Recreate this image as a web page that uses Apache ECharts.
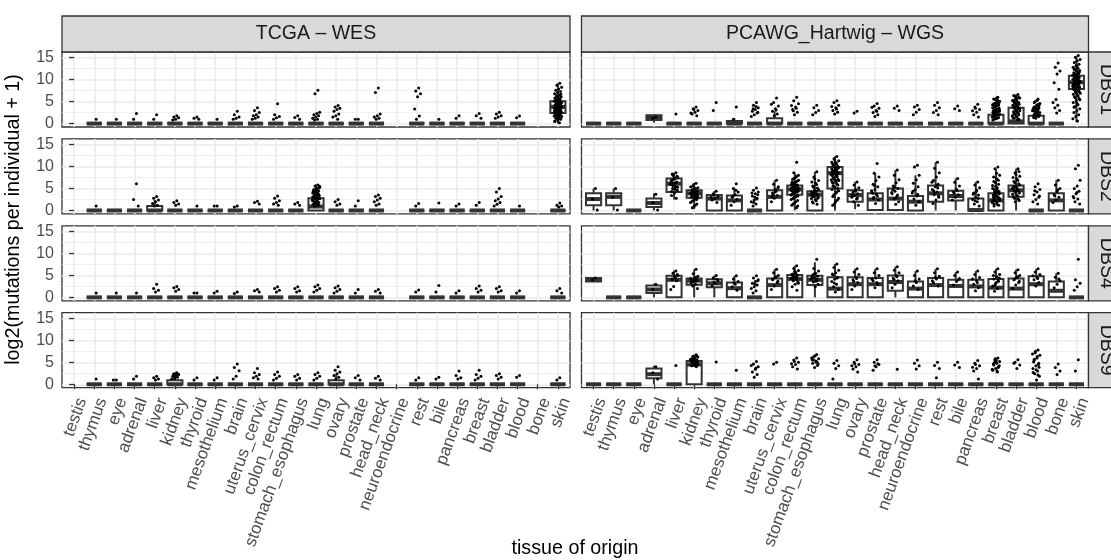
<!DOCTYPE html>
<html><head><meta charset="utf-8">
<script src="https://cdn.jsdelivr.net/npm/echarts@6/dist/echarts.min.js"></script>
<style>html,body{margin:0;padding:0;background:#fff}#c{width:1111px;height:560px}</style>
</head><body><div id="c"></div><script>
const categories = ['testis','thymus','eye','adrenal','liver','kidney','thyroid','mesothelium','brain','uterus_cervix','colon_rectum','stomach_esophagus','lung','ovary','prostate','head_neck','neuroendocrine','rest','bile','pancreas','breast','bladder','blood','bone','skin'];
const studies = ['TCGA – WES', 'PCAWG_Hartwig – WGS'];
const signatures = ['DBS1', 'DBS2', 'DBS4', 'DBS9'];
const yTicks = [0, 5, 10, 15];
const yMinorTicks = [2.5, 7.5, 12.5];
const xTitle = 'tissue of origin';
const yTitle = 'log2(mutations per individual + 1)';

// box stats per category: [lower whisker, q1, median, q3, upper whisker]; null = no samples
const Z = [0, 0, 0, 0, 0];
const boxTCGA_DBS1 = [null,Z,Z,Z,Z,Z,Z,Z,Z,Z,Z,Z,Z,Z,Z,Z,null,Z,Z,Z,Z,Z,Z,null,[0,2.4,3.8,5.1,9.2]];
const boxTCGA_DBS2 = [null,Z,Z,Z,[0,0,0,1.0,2.4],Z,Z,Z,Z,Z,Z,Z,[0,0,0.9,2.8,5.9],Z,Z,Z,null,Z,Z,Z,Z,Z,Z,null,Z];
const boxTCGA_DBS4 = [null,Z,Z,Z,Z,Z,Z,Z,Z,Z,Z,Z,Z,Z,Z,Z,null,Z,Z,Z,Z,Z,Z,null,Z];
const boxTCGA_DBS9 = [null,Z,Z,Z,Z,[0,0,0,0.9,2.2],Z,Z,Z,Z,Z,Z,Z,[0,0,0,0.9,2.2],Z,Z,null,Z,Z,Z,Z,Z,Z,null,Z];
const boxPCAWG_DBS1 = [Z,Z,Z,[0.2,0.8,1.3,1.9,2.1],Z,Z,Z,[0,0,0,0.6,1.2],Z,[0,0,0,1.2,2.8],Z,Z,Z,Z,Z,Z,Z,Z,Z,Z,[0,0,0,2.0,5.0],[0,0,0.5,3.6,6.6],[0,0,0,1.8,4.5],Z,[0.3,7.9,9.4,10.9,15.3]];
const boxPCAWG_DBS2 = [[0,1.2,2.6,3.9,5.0],[0,1.2,3.1,3.9,5.0],Z,[0,0.8,1.7,2.7,3.9],[2.5,4.2,6.1,7.3,8.6],[0.3,2.9,3.9,4.6,6.2],[0,0,2.7,3.5,4.4],[0,0,2.3,3.4,5.0],Z,[0,0,3.1,4.6,6.9],[0,3.6,4.8,5.7,8.6],[0,0,3.6,4.4,8.8],[0,5.0,8.5,9.9,12.3],[0.3,2.0,3.5,4.6,6.5],[0,0.1,2.5,3.9,8.5],[0,0.1,2.7,5.0,9.2],[0,0,2.0,3.3,8.0],[0,2.0,3.9,5.7,11.0],[0,2.3,3.3,4.5,7.3],[0,0,0.1,2.7,6.5],[0,0,2.3,3.9,9.5],[0,3.1,4.6,5.7,9.5],Z,[0,0,2.3,3.9,6.9],Z];
const boxPCAWG_DBS4 = [[3.5,3.6,4.0,4.4,4.5],Z,Z,[0,1.0,1.8,2.7,3.1],[0,0,4.0,4.9,6.1],[0,2.9,3.8,4.3,6.4],[0,2.3,3.2,4.1,5.0],[0,0,2.1,3.4,4.9],Z,[0,0,2.8,4.3,6.4],[0,0,4.2,5.1,7.2],[0,2.8,4.0,4.9,8.0],[0,0,2.0,4.6,7.6],[0,0,3.0,4.6,6.5],[0,0,3.0,4.4,6.5],[0,1.5,3.5,5.0,7.0],[0,0,2.0,3.6,6.0],[0,0,2.8,4.4,6.5],[0,0,2.6,4.0,5.8],[0,0,2.5,4.0,6.0],[0,0,2.2,4.2,6.5],[0,0,2.0,4.3,6.3],[0,0,3.0,4.8,6.5],[0,0,1.5,3.6,5.5],Z];
const boxPCAWG_DBS9 = [Z,Z,Z,[0,1.4,2.3,3.6,4.2],Z,[0,0,4.5,5.3,6.7],Z,Z,Z,Z,Z,Z,Z,Z,Z,Z,Z,Z,Z,Z,Z,Z,Z,Z,Z];

// individual values (jittered points) per category
const ptsTCGA_DBS1 = [[],[1.0],[1.0],[2.3,1.0],[2.0,1.0],[1.8,1.5,1.3,1.0,0.8],[1.5,1.2,1.0],[1.0],[2.8,2.0,1.5,1.2,1.0],[3.6,3.0,2.5,2.0,1.8,1.5,1.2,1.0],[4.5,2.0,1.6,1.3,1.0],[1.8,1.4,1.0],[7.6,6.8,2.6,2.3,2.0,1.8,1.5,1.2,1.0,0.8],[4.1,3.8,3.5,3.2,2.8,2.2,1.8,1.5,1.0],[1.0,1.0],[8.1,7.1,2.2,1.8,1.5,1.2,1.0],[],[8.1,7.4,6.8,6.1,3.3,1.7,1.0],[1.0],[1.8,1.2],[2.3,1.8,1.2],[2.6,2.2,1.8,1.5,1.2],[1.7,1.3],[],
 [9.2,8.7,8.3,7.9,7.6,7.3,7.0,6.8,6.5,6.3,6.1,5.9,5.7,5.5,5.3,5.1,4.9,4.7,4.5,4.4,4.2,4.0,3.9,3.8,3.6,3.5,3.3,3.2,3.0,2.9,2.7,2.5,2.4,2.2,2.0,1.8,1.6,1.4,1.2,1.0,0.8,0.5,0.2,4.1,3.7,3.4,3.1,4.6,2.8,2.6,5.0,4.3,
  6.7,6.2,5.8,5.6,5.2,4.8,4.6,4.1,3.9,3.7,3.5,3.3,3.0,2.8,2.6,2.3,2.1,1.9,1.7,1.5,1.3,1.1,0.9,0.6,4.4,4.0,3.6,3.2,2.9,2.5]];
const ptsTCGA_DBS2 = [[],[1.0],[],[6.1,2.5,1.0],[3.2,2.8,2.4,2.0,1.6,1.2,1.0],[2.2,1.8,1.5,1.2],[1.0],[1.0,1.0],[1.0,0.8],[2.1,1.8,1.5],[3.3,2.8,2.2,1.8,1.5,1.2],[1.8,1.5,1.2],
 [5.8,5.6,5.3,5.0,4.8,4.5,4.3,4.0,3.8,3.6,3.4,3.2,3.0,2.8,2.6,2.4,2.2,2.0,1.8,1.6,1.4,1.2,1.0,5.5,4.6,4.1,3.5,2.9,2.3,1.7,1.1,5.2,4.9,4.4,3.9,3.3,2.7,2.1,1.5,1.3,4.7,3.1,2.5,1.9],
 [2.5,2.0,1.5,1.2],[2.2,1.0],[3.5,3.2,2.8,2.4,2.0,1.5,1.2],[],[1.6,1.0],[1.7],[1.5,1.0],[1.8,1.2],[5.0,4.2,3.2,2.6,2.2,1.8,1.4,1.0],[1.0],[],[1.7,1.2,1.0,0.8]];
const ptsTCGA_DBS4 = [[],[1.0],[1.0],[1.0],[3.0,2.0,1.6,1.2],[2.5,2.2,1.8,1.4],[1.0,1.0],[1.4,1.0],[1.2,0.9],[1.8,1.5,1.2],[2.4,2.0,1.6,1.2],[2.4,2.0,1.5,1.2],[2.8,2.4,2.0,1.6,1.2],[2.6,2.2,1.8,1.4,1.0],[1.8,1.0],[1.8,1.4,1.0],[],[1.7,1.2],[2.7,1.2],[1.5,1.0],[2.6,2.0,1.6,1.2],[2.4,2.0,1.5,1.2],[1.5,1.0],[],[2.0,1.5,1.0]];
const ptsTCGA_DBS9 = [[],[1.2],[1.0,1.0],[1.8,1.2],[1.8,1.5,1.2,1.0],[2.6,2.4,2.2,2.0,1.8,1.6,1.4,1.2,2.5,2.1,2.3,1.9],[1.5,1.0],[1.5,1.0],[4.6,3.8,3.1,1.8,1.2],[3.6,2.6,2.2,1.8,1.5,1.2],[2.8,2.2,1.8,1.4,1.0],[2.2,1.8,1.4,1.0],[2.6,2.2,1.8,1.4,1.0],[4.0,3.2,2.8,2.4,2.0,1.6,1.2],[2.0,1.5,1.0],[1.8,1.4,1.0],[],[1.5,1.0],[1.6,1.2],[3.0,2.0,1.5,1.2],[3.2,2.2,1.8,1.4,1.0],[2.4,2.0,1.6,1.2],[2.0,1.6],[],[1.5,1.0]];
const ptsPCAWG_DBS1 = [[],[],[],[1.5,1.2],[2.2],[3.8,3.4,3.0,2.6,2.2,1.8,3.2,2.4],[4.8,3.0],[3.8,1.0],[4.8,4.2,3.6,3.2,2.8,2.4,2.0,1.6,3.9,3.4,2.6],[5.8,4.8,4.0,3.4,2.8,2.2,1.8,4.4,3.1],[6.0,5.2,4.5,3.8,3.2,2.6,2.0,4.1,3.5,2.9],[4.2,3.6,3.0,2.5,2.0],[5.2,4.8,4.2,3.6,3.0,2.6,2.2,3.9,3.3],[2.8,2.4],[4.6,4.0,3.5,3.0,2.5,2.0,1.6,3.7,2.8],[4.0,3.5,3.0],[4.2,3.8,3.2,2.6,2.0],[4.8,4.2,3.6,3.0,2.5,2.0],[4.0,3.4,3.0],[4.4,3.8,3.2,2.6,2.0,1.5,3.5,2.9],
 [6.0,5.5,5.1,4.8,4.5,4.2,3.9,3.6,3.3,3.0,2.8,2.5,2.2,2.0,1.7,1.5,1.2,1.0,4.6,3.4,2.6,5.3,4.0,3.1,5.8,5.6,5.0,4.7,4.3,4.1,3.8,3.5,3.2,2.9,2.7,2.4,2.1,1.9,1.6,1.4,1.1,0.8],
 [6.6,6.2,5.8,5.5,5.1,4.8,4.5,4.2,3.9,3.6,3.3,3.0,2.7,2.4,2.1,1.8,1.5,1.2,1.0,5.9,5.3,4.6,4.0,3.4,2.8,6.4,6.0,5.6,5.2,4.9,4.7,4.4,4.1,3.8,3.5,3.2,2.9,2.6,2.3,2.0,1.7,1.3,0.9],
 [5.6,5.0,4.6,4.2,3.8,3.5,3.2,2.9,2.6,2.3,2.0,1.7,1.4,4.4,3.6,3.0,5.3,4.8,4.0,3.7,3.4,3.1,2.8,2.5,2.2,1.9,1.6,1.2],
 [13.8,12.8,12.0,11.3,9.3,7.8,5.5,4.8,4.2,3.6,3.0,2.4],
 [15.5,15.1,14.6,14.3,13.9,13.5,13.2,12.8,12.6,12.3,12.1,11.9,11.6,11.4,11.2,11.0,10.8,10.6,10.5,10.3,10.1,9.9,9.8,9.6,9.4,9.3,9.1,8.9,8.8,8.6,8.4,8.2,8.0,7.8,7.5,7.2,6.9,6.5,6.1,5.7,5.2,4.8,4.3,3.9,3.4,2.9,2.5,2.0,1.6,1.1,0.6,10.7,9.7,9.0,8.3,11.3,10.2,9.5,
  12.9,12.4,11.7,11.1,10.9,10.4,10.0,9.7,9.5,9.2,8.9,8.7,8.5,8.1,7.7,7.3,7.0,6.7,6.3,5.9,5.4,4.6,3.7,11.5,10.8,10.1,9.6,9.0,8.4]];
const ptsPCAWG_DBS2 = [[5.0,2.6,0.1],[5.0,3.0,0.1],[],[3.7,1.8,0.1],
 [8.6,8.0,7.6,7.2,6.9,6.5,6.2,5.9,5.5,5.0,4.6,4.0,3.4,2.8,7.0,6.0,5.2,8.3,7.8,7.4,6.7,6.3,5.7,5.3,4.8,4.3],
 [6.2,5.6,5.2,4.9,4.6,4.4,4.2,4.0,3.8,3.6,3.4,3.2,3.0,2.7,2.3,1.8,1.2,0.6,4.1,3.9,3.7,3.3,4.5,4.3,3.5,3.1,2.5,5.9,5.4,5.0,4.8,4.3,4.0,3.8,3.5,3.2,2.9,2.6,2.1,1.5,0.9],
 [4.4,3.8,3.2,2.8,2.4,1.8,3.5,3.0],[6.1,5.0,4.2,3.6,3.0,2.5,2.0,1.2,4.6,3.3],[5.1,4.6,4.2,3.8,3.3,2.8,2.4,2.0,1.5,1.0,3.6,3.0,4.0,2.6,1.8],[6.9,6.0,5.4,4.8,4.0,3.4,2.8,2.0,4.4,3.7,5.1,4.2,3.1],
 [11.0,8.6,8.0,7.5,7.1,6.7,6.3,6.0,5.7,5.4,5.1,4.8,4.5,4.2,3.9,3.5,3.1,2.7,2.3,1.8,1.2,0.6,5.6,5.0,4.4,3.8,5.3,4.9,4.6,4.3,4.0,3.3,5.9,6.5,7.8,7.3,6.9,6.4,6.1,5.8,5.5,5.2,4.9,4.7,4.4,4.1,3.7,3.4,3.0,2.5,2.0,1.5,1.0],
 [8.8,7.6,6.8,6.2,5.6,5.1,4.6,4.2,3.8,3.4,3.0,2.5,2.0,1.4,4.0,3.6,4.4,3.2,2.8,7.2,6.5,5.9,5.3,4.8,4.3,3.9,3.5,3.1,2.7,2.2,1.7],
 [12.3,11.8,11.3,10.9,10.5,10.1,9.8,9.5,9.2,8.9,8.6,8.3,8.0,7.7,7.4,7.0,6.6,6.2,5.8,5.3,4.8,4.2,3.6,2.8,2.0,1.2,9.6,9.0,8.4,7.8,10.3,9.9,9.4,8.8,8.2,7.2,6.8,6.4,5.6,5.0,
  11.5,11.0,10.7,10.2,9.7,9.3,9.1,8.7,8.5,8.1,7.9,7.5,7.1,6.9,6.5,6.0,5.5,4.5,3.9,3.2,2.4,1.6],
 [6.5,5.8,5.2,4.7,4.2,3.8,3.4,3.0,2.6,2.0,1.2,4.4,3.6,2.8],[10.7,8.5,7.6,6.8,6.0,5.4,4.8,4.2,3.6,3.0,2.4,1.6,3.9,3.3,5.7,4.5,3.7,2.7],[9.2,8.0,7.0,6.3,5.6,5.0,4.4,3.8,3.2,2.6,2.0,1.4,4.7,3.5,5.3,4.1,2.9],[10.3,9.9,8.0,7.0,6.2,5.4,4.7,4.0,3.3,2.6,2.0,1.2,4.4,3.7],[11.0,9.6,8.6,7.6,6.8,6.0,5.4,4.8,4.2,3.6,3.0,2.4,1.6,5.1,3.9,6.4,5.7,4.5,3.3],[7.3,6.4,5.6,4.8,4.2,3.6,3.0,2.4,4.5,3.9],[6.5,5.8,5.2,4.6,4.0,3.5,3.0,2.5,2.0,1.5,1.0,4.3,3.7,2.8,2.2],
 [9.9,9.5,8.0,7.2,6.6,6.0,5.5,5.0,4.6,4.2,3.8,3.4,3.0,2.6,2.2,1.8,1.4,1.0,4.0,3.2,2.4,4.4,3.6,2.8,8.5,7.6,6.9,6.3,5.7,5.2,4.8,4.3,3.9,3.5,3.1,2.7,2.3,1.9,1.5,1.2],
 [9.5,8.6,7.8,7.2,6.6,6.1,5.6,5.2,4.8,4.4,4.0,3.6,3.1,2.6,2.0,5.0,4.6,5.4,8.9,8.2,7.5,6.9,6.3,5.8,5.3,4.9,4.5,4.1,3.7,3.3,2.8,2.3],
 [6.1,5.4,4.8,4.2,3.6,3.0,2.5,2.0,1.5,4.5,3.3],[6.9,5.8,5.0,4.3,3.6,3.0,2.4,1.8,4.7,3.3],[10.3,9.5,6.9,5.6,5.0,4.4,3.8,3.2,2.6,2.0,1.5,4.1,2.9]];
const ptsPCAWG_DBS4 = [[4.4,4.0],[],[],[3.0,1.8],[6.0,5.5,5.0,4.6,4.2,3.8,2.5,1.8,4.4,4.0,5.2,4.8],[6.4,5.4,4.8,4.4,4.1,3.9,3.6,3.3,3.0,2.6,2.0,4.2,3.7,4.6,3.5,4.3,3.8],[5.0,4.4,3.8,3.2,2.6,4.1,3.5],[4.9,4.2,3.6,3.0,2.4,1.6,3.3],[4.9,4.4,4.0,3.6,3.2,2.8,2.4,2.0,1.5,1.0,3.8,3.0],[6.4,5.6,5.0,4.5,4.0,3.4,2.6,1.8,4.7,4.2,3.7],
 [7.2,6.6,6.1,5.7,5.3,5.0,4.7,4.4,4.1,3.8,3.4,3.0,2.4,1.6,4.8,4.3,5.5,4.6,3.6,5.9,5.2,4.5,4.0,3.2],[8.7,6.6,6.0,5.5,5.1,4.8,4.5,4.2,3.9,3.5,3.0,2.4,4.6,4.0,5.3,4.3,3.7],[7.6,6.8,6.2,5.6,5.1,4.6,4.1,3.6,3.0,2.4,1.8,1.2,5.3,4.4,3.3],[6.5,5.8,5.2,4.6,4.0,3.4,2.6,1.8,4.3,3.7],[6.5,5.6,5.0,4.4,3.8,3.0,2.2,4.1,3.4],[7.0,6.2,5.6,5.0,4.4,3.8,3.0,2.2,4.7,4.1],[6.0,5.0,4.2,3.4,2.6,1.8,3.8],[6.5,5.6,4.8,4.2,3.4,2.6,4.5,3.8],[5.8,5.0,4.3,3.6,2.8,4.0],[6.0,5.2,4.5,3.8,3.0,2.2,1.5,4.2,3.4],[6.5,5.8,5.2,4.7,4.2,3.7,3.2,2.6,2.0,1.4,4.4,3.4,5.0,4.0,2.9],[6.3,5.6,5.0,4.5,4.0,3.4,2.8,2.0,4.7,4.2,3.7],[6.5,5.8,5.2,4.6,4.0,3.4,2.6,4.9,4.3],[5.5,4.6,3.8,3.0,2.2,4.2],[8.7,4.0,3.2,2.4,1.6]];
const ptsPCAWG_DBS9 = [[],[],[],[4.0,2.6,1.2],[4.3],[6.7,6.4,6.2,6.0,5.8,5.6,5.4,5.2,5.0,4.8,4.6,4.4,4.2,4.0,6.1,5.7,5.3,4.9,4.5,5.9,5.5,5.1,6.3,5.0,4.7,5.6,6.5,4.3],[5.1],[3.2],[5.2,4.6,4.0,3.4,2.8,2.2,1.6,4.3,3.7],[5.0,4.6],[6.0,5.5,5.0,4.5,4.0,3.5,5.2,4.7],[6.8,6.3,5.8,5.3,4.8,4.3,3.8,6.0,5.0,5.6,4.6,6.5,5.5,5.1],[5.4,4.8,4.2,3.6,1.2],[5.6,5.0,4.5,4.0,3.5,2.8,4.7,4.2],[5.6,5.0,4.5,4.0,3.2,4.7,4.2],[3.4],[5.5,4.8,4.2,3.5],[5.0,4.3,3.6,1.5],[5.0,4.4,3.8],[5.4,4.8,4.2,3.6,3.0,1.2,4.5,3.9],[6.0,5.6,5.2,4.8,4.4,4.0,3.6,3.2,2.8,5.0,4.2,5.4,4.6,3.8,5.8,3.4,3.0],[5.6,5.0,4.4,3.6,4.8],[7.8,7.2,6.6,6.0,5.4,4.8,4.2,3.6,3.0,2.4,1.8,1.0,5.1,4.5,7.5,6.9,6.3,5.7,3.9,3.3,2.7,2.1],[4.6,3.8,3.0,2.2],[5.6,3.0]];

const boxPanels = [[boxTCGA_DBS1, boxPCAWG_DBS1],[boxTCGA_DBS2, boxPCAWG_DBS2],[boxTCGA_DBS4, boxPCAWG_DBS4],[boxTCGA_DBS9, boxPCAWG_DBS9]];
const ptPanels = [[ptsTCGA_DBS1, ptsPCAWG_DBS1],[ptsTCGA_DBS2, ptsPCAWG_DBS2],[ptsTCGA_DBS4, ptsPCAWG_DBS4],[ptsTCGA_DBS9, ptsPCAWG_DBS9]];

// ---------- layout ----------
const FONT = 'Liberation Sans, Arial, Helvetica, sans-serif';
const colLeft = [62, 581.5], colW = [508, 507];
const rowTop = [52, 138.9, 225.8, 312.7], rowH = 75;
const Y_MIN = -0.78, Y_MAX = 16.3, X_MIN = -0.6, X_MAX = 24.6;
const BOX_W = 0.75, JIT = 0.38;
const catIdx = categories.map((_, i) => i);

const grids = [], xAxes = [], yAxes = [], series = [];
function renderBox(params, api) {
  const x = api.value(0);
  const lo = api.coord([x, api.value(1)]), q1 = api.coord([x, api.value(2)]), md = api.coord([x, api.value(3)]);
  const q3 = api.coord([x, api.value(4)]), hi = api.coord([x, api.value(5)]);
  const hw = api.size([BOX_W, 0])[0] / 2, cx = lo[0];
  const st = { stroke: '#333333', lineWidth: 2, fill: null };
  return { type: 'group', children: [
    { type: 'line', shape: { x1: cx, y1: q3[1], x2: cx, y2: hi[1] }, style: st },
    { type: 'line', shape: { x1: cx, y1: q1[1], x2: cx, y2: lo[1] }, style: st },
    { type: 'rect', shape: { x: cx - hw, y: q3[1], width: 2 * hw, height: q1[1] - q3[1] }, style: { fill: '#fff', stroke: '#333333', lineWidth: 2 } },
    { type: 'line', shape: { x1: cx - hw, y1: md[1], x2: cx + hw, y2: md[1] }, style: { stroke: '#333333', lineWidth: 4 } }
  ]};
}
let g = 0;
for (let r = 0; r < 4; r++) {
  for (let c = 0; c < 2; c++) {
    grids.push({ left: colLeft[c], top: rowTop[r], width: colW[c], height: rowH, show: true, backgroundColor: '#fff', borderColor: '#333333', borderWidth: 1.3, containLabel: false, outerBoundsMode: 'none' });
    const bottom = r === 3;
    xAxes.push({ type: 'value', gridIndex: g, min: X_MIN, max: X_MAX,
      axisLine: { show: false },
      axisTick: { show: bottom, customValues: catIdx, length: 5, lineStyle: { color: '#333333', width: 1.3 } },
      axisLabel: { show: bottom, customValues: catIdx, formatter: v => categories[Math.round(v)], rotate: 70, align: 'right', verticalAlign: 'top', margin: 8, fontSize: 17, fontFamily: FONT, color: '#4D4D4D', hideOverlap: false },
      splitLine: { show: true, lineStyle: { color: '#EBEBEB', width: 1.6 } } });
    const left = c === 0;
    yAxes.push({ type: 'value', gridIndex: g, min: Y_MIN, max: Y_MAX, position: 'left', offset: 0,
      axisLine: { show: false },
      axisTick: { show: left, customValues: yTicks, length: 5, lineStyle: { color: '#333333', width: 1.3 } },
      axisLabel: { show: left, customValues: yTicks, margin: 8, fontSize: 16, fontFamily: FONT, color: '#4D4D4D' },
      splitLine: { show: true, lineStyle: { color: '#EBEBEB', width: 1.6 } } });
    yAxes.push({ type: 'value', gridIndex: g, min: Y_MIN, max: Y_MAX, position: 'left', offset: 0,
      axisLine: { show: false }, axisTick: { show: false, customValues: yMinorTicks }, axisLabel: { show: false },
      splitLine: { show: true, lineStyle: { color: '#EBEBEB', width: 0.8 } } });
    const bx = [], pts = [];
    boxPanels[r][c].forEach((b, i) => { if (b) bx.push([i].concat(b)); });
    ptPanels[r][c].forEach((list, i) => list.forEach((v, k) => {
      const dx = (((k + 1) * 0.6180339887 + 0.13) % 1 - 0.5) * JIT;
      pts.push([i + dx, v]);
    }));
    series.push({ type: 'custom', xAxisIndex: g, yAxisIndex: 2 * g, renderItem: renderBox, data: bx, encode: { x: 0, y: [1, 2, 3, 4, 5] }, z: 2, silent: true, clip: false });
    series.push({ type: 'scatter', xAxisIndex: g, yAxisIndex: 2 * g, data: pts, symbolSize: 3, itemStyle: { color: '#000', opacity: 1 }, z: 3, silent: true });
    g++;
  }
}

const graphic = [];
for (let c = 0; c < 2; c++) {
  graphic.push({ type: 'rect', shape: { x: colLeft[c], y: 16, width: colW[c], height: 36 }, style: { fill: '#D9D9D9', stroke: '#333333', lineWidth: 1.3 }, z: 10 });
  graphic.push({ type: 'text', x: colLeft[c] + colW[c] / 2, y: 34, style: { text: studies[c], fontSize: 19.5, fontFamily: FONT, fill: '#1A1A1A', align: 'center', verticalAlign: 'middle' }, z: 11 });
}
const rx = colLeft[1] + colW[1];
for (let r = 0; r < 4; r++) {
  graphic.push({ type: 'rect', shape: { x: rx, y: rowTop[r], width: 36, height: rowH }, style: { fill: '#D9D9D9', stroke: '#333333', lineWidth: 1.3 }, z: 10 });
  graphic.push({ type: 'text', x: rx + 18, y: rowTop[r] + rowH / 2, rotation: -Math.PI / 2, style: { text: signatures[r], fontSize: 19.5, fontFamily: FONT, fill: '#1A1A1A', align: 'center', verticalAlign: 'middle' }, z: 11 });
}
graphic.push({ type: 'text', x: 14, y: 219.5, rotation: Math.PI / 2, style: { text: yTitle, fontSize: 19.7, fontFamily: FONT, fill: '#000', align: 'center', verticalAlign: 'middle' }, z: 11 });
graphic.push({ type: 'text', x: 575, y: 549, style: { text: xTitle, fontSize: 19.7, fontFamily: FONT, fill: '#000', align: 'center', verticalAlign: 'middle' }, z: 11 });

const chart = echarts.init(document.getElementById('c'), null, { renderer: 'canvas' });
chart.setOption({ animation: false, backgroundColor: '#fff', grid: grids, xAxis: xAxes, yAxis: yAxes, series: series, graphic: graphic });
</script></body></html>
